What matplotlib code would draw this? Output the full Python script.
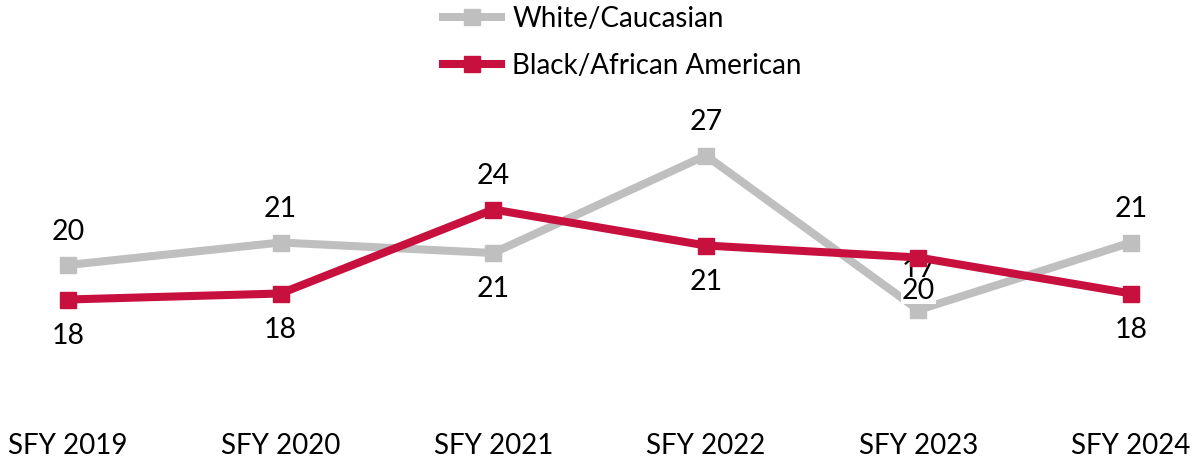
import matplotlib.pyplot as plt

plt.rcParams['font.family'] = ['Lato', 'DejaVu Sans']

years = ['SFY 2019', 'SFY 2020', 'SFY 2021', 'SFY 2022', 'SFY 2023', 'SFY 2024']
white = [19.9, 21.4, 20.7, 27.2, 16.9, 21.4]
black = [17.6, 18.0, 23.6, 21.2, 20.4, 18.0]
white_labels = ['20', '21', '21', '27', '17', '21']
black_labels = ['18', '18', '24', '21', '20', '18']
# label placement: +1 above the point, -1 below
white_side = [1, 1, -1, 1, 1, 1]
black_side = [-1, -1, 1, -1, -1, -1]

grey = '#BFBFBF'
red = '#C8103F'

fig = plt.figure(figsize=(11.99, 4.62), dpi=100)
ax = fig.add_axes([0, 37 / 462, 1, 425 / 462])

x = list(range(len(years)))
ax.plot(x, white, color=grey, lw=5.8, marker='s', ms=11, zorder=2, label='White/Caucasian')
ax.plot(x, black, color=red, lw=5.8, marker='s', ms=11, zorder=3, label='Black/African American')


def offset(side, special=None):
    if special is not None:
        return special
    return 24 if side > 0 else -26


for i in x:
    ax.annotate(white_labels[i], (i, white[i]),
                xytext=(0, offset(white_side[i], 28 if i == 4 else None)),
                textcoords='offset points', ha='center', va='center', fontsize=20.5,
                zorder=2.5, bbox=dict(fc='white', ec='none', pad=0.5))
    ax.annotate(black_labels[i], (i, black[i]),
                xytext=(0, offset(black_side[i], -24 if i == 4 else None)),
                textcoords='offset points', ha='center', va='center', fontsize=20.5,
                zorder=2.5, bbox=dict(fc='white', ec='none', pad=0.5))

ax.set_xlim(-68 / 212.6, (1199 - 68) / 212.6)
ax.set_ylim((563.5 - 425) / 15, 563.5 / 15)
ax.set_xticks(x)
ax.set_xticklabels(years, fontsize=20)
ax.tick_params(axis='x', length=0, pad=6)
ax.set_yticks([])
for s in ax.spines.values():
    s.set_visible(False)

ax.legend(loc='upper left', bbox_to_anchor=(440 / 1199, 1 - 3 / 462), bbox_transform=fig.transFigure,
          frameon=False, fontsize=20, handlelength=2.1, labelspacing=0.75,
          borderaxespad=0, borderpad=0.1, handletextpad=0.4)

fig.savefig('out.png', dpi=100)
